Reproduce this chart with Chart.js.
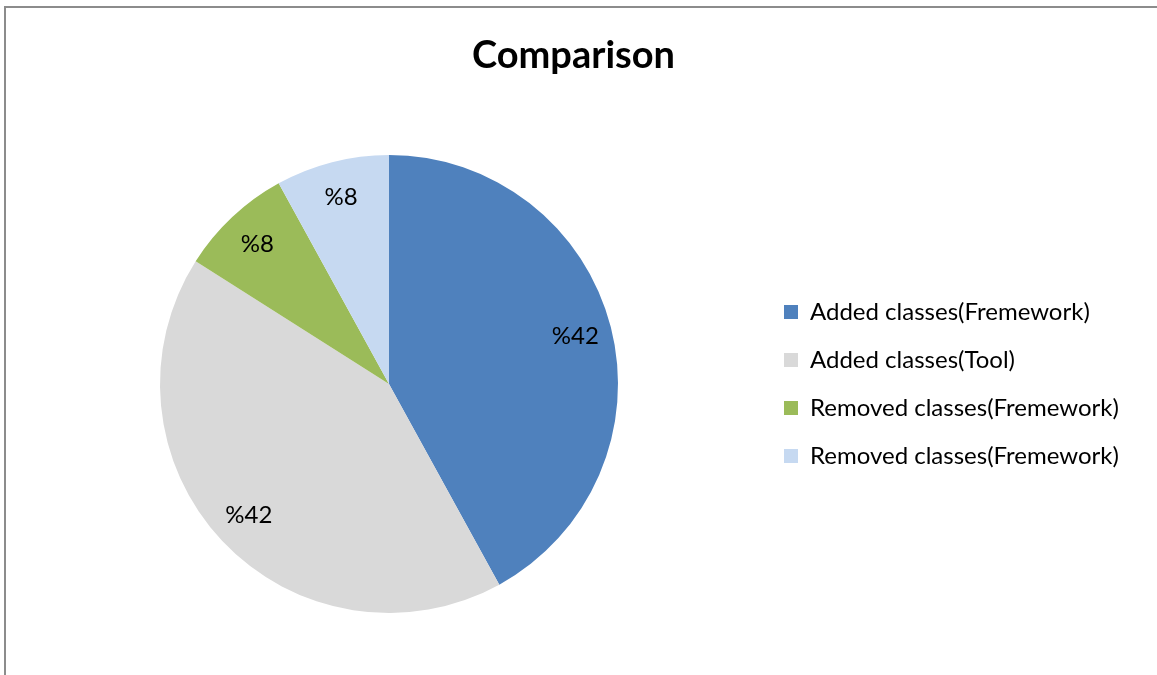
<!DOCTYPE html>
<html>
<head>
<meta charset="utf-8">
<title>Comparison</title>
<script src="https://cdn.jsdelivr.net/npm/chart.js@4/dist/chart.umd.min.js"></script>
<style>
  html, body { margin: 0; padding: 0; background: #fff; overflow: hidden; }
  #frame {
    position: absolute; left: 4px; top: 6px; width: 1200px; height: 700px;
    border-left: 2px solid #8c8c8c; border-top: 2px solid #8c8c8c;
  }
  #wrap { position: absolute; left: 0; top: 0; width: 1157px; height: 675px; }
</style>
</head>
<body>
<div id="frame"></div>
<div id="wrap"><canvas id="pie"></canvas></div>
<script>
// values
const categories = [
  'Added classes(Fremework)',
  'Added classes(Tool)',
  'Removed classes(Fremework)',
  'Removed classes(Fremework)',
];
const shares = [42, 42, 8, 8];
const colours = ['#4F81BD', '#D9D9D9', '#9BBB59', '#C6D9F1'];

const FONT = 'Lato, "Open Sans", sans-serif';
const legendSize = 24;
const legendGap = 24;
const legendBox = 14;

// legend sits to the right of the pie; work out its width so the pie lands where it should
function legendWidth() {
  const c = document.createElement('canvas').getContext('2d');
  c.font = `normal ${legendSize}px ${FONT}`;
  const widest = Math.max(...categories.map((t) => c.measureText(t).width));
  return legendGap + legendBox + legendSize / 2 + widest + 10;
}
const areaRight = 760;

// percentage labels inside the slices
const sliceLabels = {
  id: 'sliceLabels',
  afterDatasetsDraw(chart) {
    const { ctx } = chart;
    const meta = chart.getDatasetMeta(0);
    ctx.save();
    ctx.font = `normal 24px ${FONT}`;
    ctx.fillStyle = '#000';
    ctx.textAlign = 'center';
    ctx.textBaseline = 'middle';
    meta.data.forEach((arc, i) => {
      const { x, y, startAngle, endAngle, outerRadius } = arc.getProps(['x', 'y', 'startAngle', 'endAngle', 'outerRadius'], true);
      const mid = (startAngle + endAngle) / 2;
      const r = outerRadius * 0.84;
      ctx.fillText('%' + shares[i], x + Math.cos(mid) * r, y + Math.sin(mid) * r);
    });
    ctx.restore();
  },
};

const titleSize = 38;

new Chart(document.getElementById('pie'), {
  type: 'pie',
  data: {
    labels: categories,
    datasets: [{
      data: shares,
      backgroundColor: colours,
      borderWidth: 0,
      hoverOffset: 0,
      offset: 0,
    }],
  },
  options: {
    responsive: true,
    maintainAspectRatio: false,
    animation: false,
    layout: { padding: { top: 0, bottom: 62, left: 18, right: 1157 - areaRight - legendWidth() } },
    plugins: {
      title: {
        display: true,
        text: 'Comparison',
        color: '#000',
        font: { family: FONT, size: titleSize, weight: 'bold', lineHeight: 1.2 },
        padding: { top: 56 - titleSize * 0.6, bottom: 155 - 56 - titleSize * 0.6 },
      },
      legend: {
        position: 'right',
        fullSize: false,
        labels: {
          color: '#000',
          font: { family: FONT, size: legendSize },
          boxWidth: legendBox,
          boxHeight: legendBox,
          padding: legendGap,
        },
      },
      tooltip: { enabled: false },
    },
  },
  plugins: [sliceLabels],
});
</script>
</body>
</html>
